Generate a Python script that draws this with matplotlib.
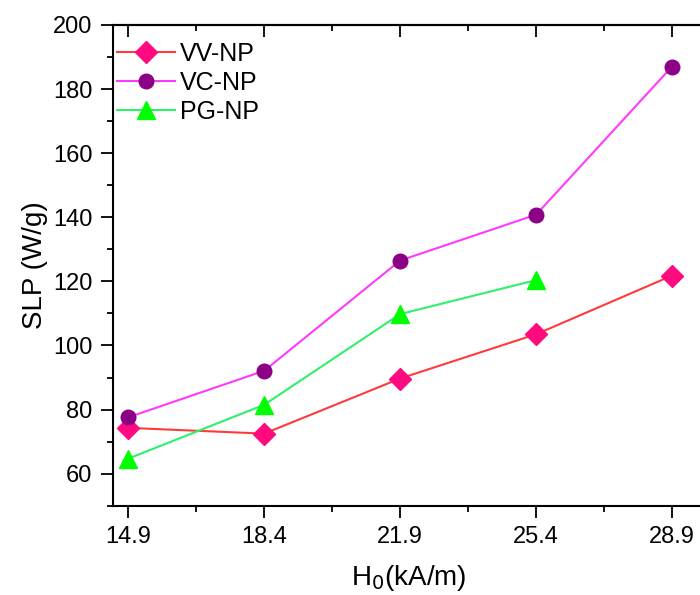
import matplotlib.pyplot as plt
from matplotlib.ticker import MultipleLocator, FixedLocator

plt.rcParams['font.family'] = ['Liberation Sans', 'DejaVu Sans']

# datos
h0 = [14.9, 18.4, 21.9, 25.4, 28.9]
vv_np = [74.3, 72.5, 89.7, 103.5, 121.8]
vc_np = [77.6, 92.1, 126.5, 140.8, 187.0]
h0_pg = [14.9, 18.4, 21.9, 25.4]
pg_np = [64.7, 81.5, 109.8, 120.4]
minor_x = [16.65, 20.15, 23.65, 27.15]

fig = plt.figure(figsize=(7, 5.95), dpi=100)
ax = fig.add_axes([0.161, 0.150, 0.845, 0.808])

ax.plot(h0, vv_np, '-', color='#FF3A3A', lw=1.5, marker='D', ms=11.5,
        mfc='#FF0A7F', mec='#FF0A7F', label='VV-NP')
ax.plot(h0, vc_np, '-', color='#FF3AFF', lw=1.5, marker='o', ms=10.5,
        mfc='#8B0085', mec='#8B0085', label='VC-NP')
ax.plot(h0_pg, pg_np, '-', color='#2EF06A', lw=1.5, marker='^', ms=13,
        mfc='#00FF00', mec='#00FF00', label='PG-NP')

ax.set_xlim(14.5, 29.73)
ax.set_ylim(50, 200)
ax.xaxis.set_major_locator(FixedLocator(h0))
ax.xaxis.set_minor_locator(FixedLocator(minor_x))
ax.set_yticks([60, 80, 100, 120, 140, 160, 180, 200])
ax.yaxis.set_minor_locator(MultipleLocator(10))

ax.tick_params(which='both', direction='out', labelsize=17, width=1.3, pad=6)
ax.tick_params(which='major', length=8.5)
ax.tick_params(which='minor', length=4.5)
for s in ax.spines.values():
    s.set_linewidth(1.5)
ax.spines['right'].set_visible(False)

# ticks del borde superior hacia dentro
sec = ax.secondary_xaxis('top')
sec.xaxis.set_major_locator(FixedLocator(h0))
sec.xaxis.set_minor_locator(FixedLocator(minor_x))
sec.tick_params(which='both', direction='in', labeltop=False, width=1.3)
sec.tick_params(which='major', length=8.5)
sec.tick_params(which='minor', length=4.5)
sec.spines['top'].set_linewidth(1.5)

ax.set_xlabel('H$_0$(kA/m)', fontsize=20, labelpad=11)
ax.set_ylabel('SLP (W/g)', fontsize=20, labelpad=4)

ax.legend(loc='upper left', bbox_to_anchor=(-0.005, 0.98), frameon=False,
          fontsize=18, handlelength=2.3, borderaxespad=0.1, borderpad=0.2,
          labelspacing=0.2, handletextpad=0.2)

fig.savefig('out.png', dpi=100)
